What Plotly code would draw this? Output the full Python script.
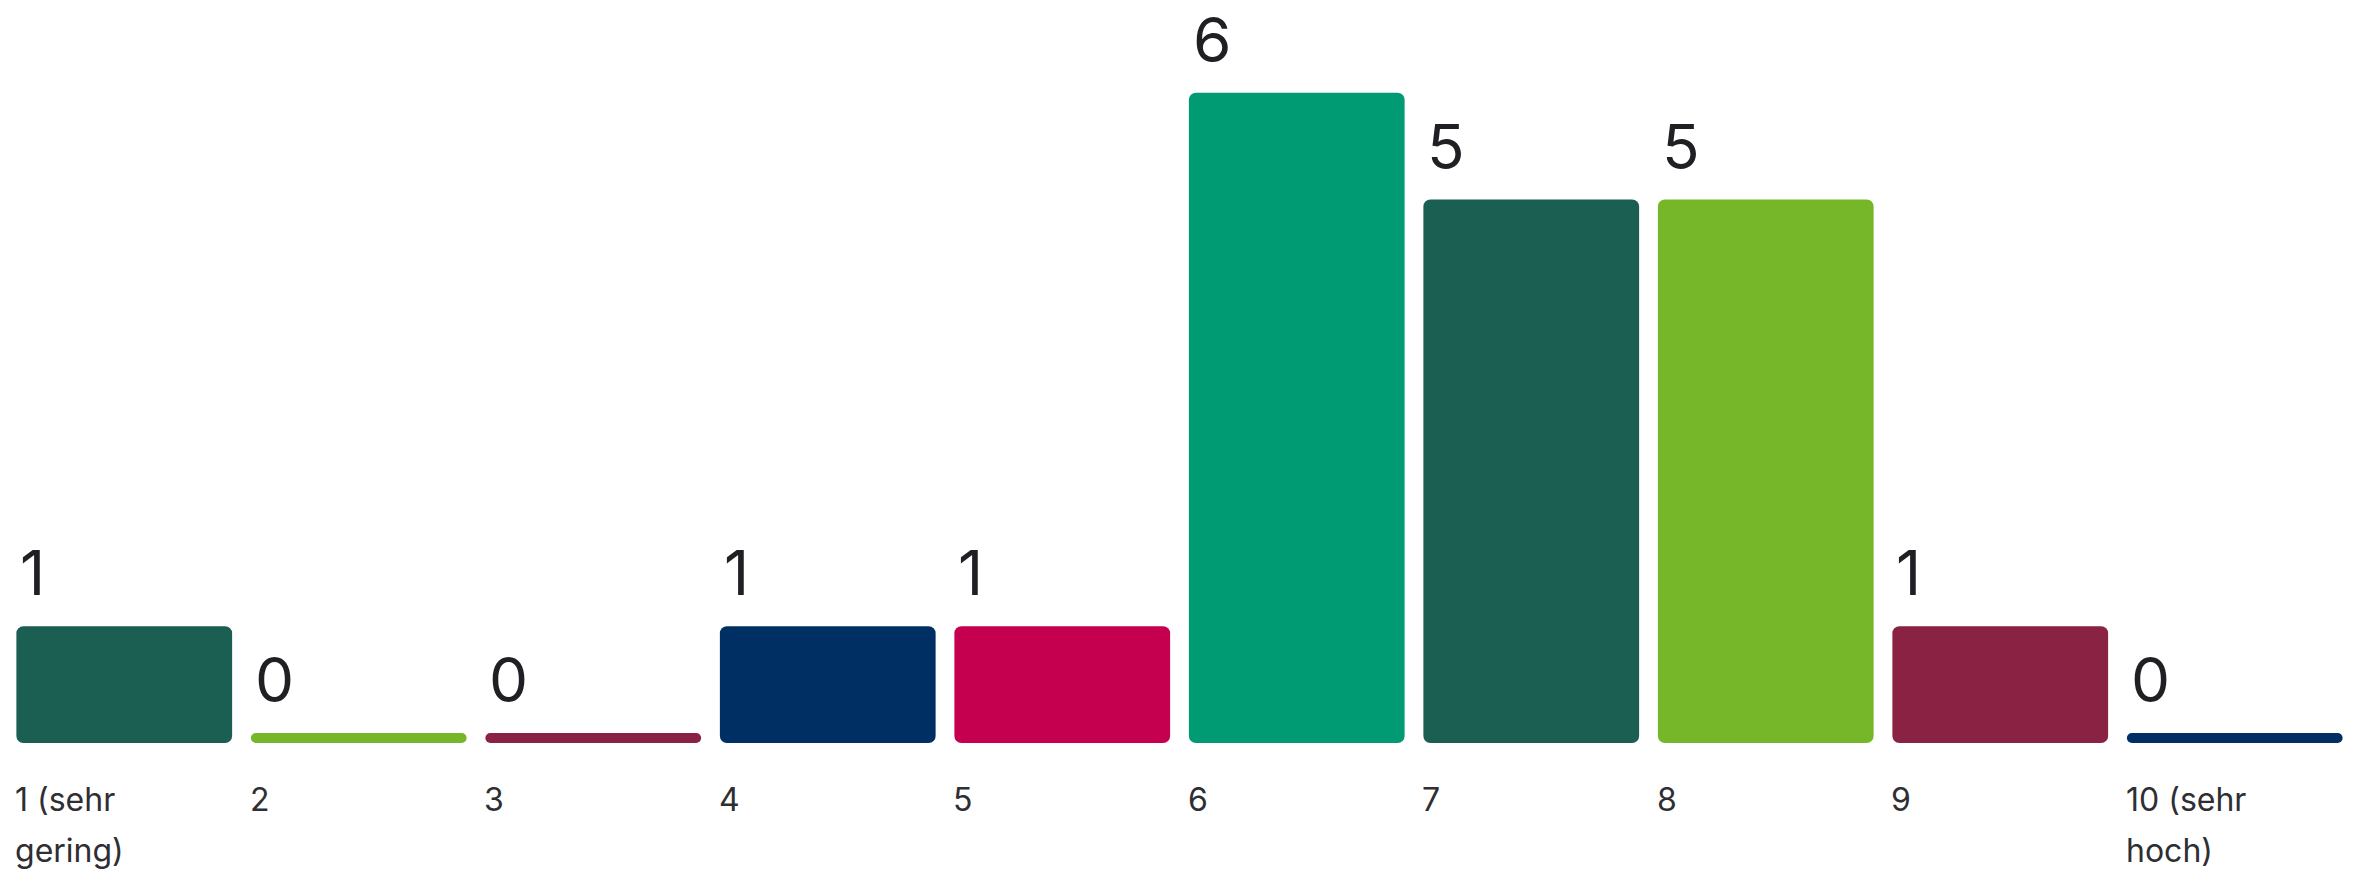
import plotly.graph_objects as go

ratings = [1, 2, 3, 4, 5, 6, 7, 8, 9, 10]
tick_labels = ["1 (sehr<br>gering)", "2", "3", "4", "5", "6", "7", "8", "9", "10 (sehr<br>hoch)"]
counts = [1, 0, 0, 1, 1, 6, 5, 5, 1, 0]
colors = ["#1a5f52", "#76b72a", "#8a2243", "#003063", "#c4004f",
          "#009a73", "#1a5f52", "#76b72a", "#8a2243", "#003063"]

W, H = 2354, 874
BASELINE_PX = 743
PX_PER_UNIT = 106.7
BASE = -10 / PX_PER_UNIT  # zero bars keep a thin visible stub
BARGAP = 0.08
HALF = (1 - BARGAP) / 2
FONT = "Inter"

fig = go.Figure()
fig.add_trace(go.Bar(
    x=ratings, y=[c - BASE for c in counts], base=BASE,
    marker=dict(color=colors, line=dict(width=0)),
    hoverinfo="skip",
))

annotations = []
for r, c in zip(ratings, counts):
    annotations.append(dict(
        x=r - HALF, y=c, xref="x", yref="y", text=str(c), showarrow=False,
        xanchor="left", yanchor="bottom", xshift=2, yshift=14,
        font=dict(family=FONT, size=62, color="#1f1f24"),
    ))
for r, lab in zip(ratings, tick_labels):
    for k, line in enumerate(lab.split("<br>")):
        annotations.append(dict(
            x=r - HALF, y=BASE, xref="x", yref="y", text=line, showarrow=False,
            xanchor="left", yanchor="top", xshift=-3, yshift=-35 - 51 * k,
            font=dict(family=FONT, size=32, color="#2e2e33"),
        ))

plot_h = BASELINE_PX
fig.update_layout(
    width=W, height=H,
    margin=dict(l=7, r=2, t=0, b=H - BASELINE_PX, pad=0),
    paper_bgcolor="white", plot_bgcolor="white",
    bargap=BARGAP, barcornerradius=7,
    showlegend=False,
    xaxis=dict(range=[0.5, 10.5], visible=False, fixedrange=True),
    yaxis=dict(range=[BASE, BASE + plot_h / PX_PER_UNIT], visible=False, fixedrange=True),
    annotations=annotations,
)
fig.write_html("out.html", config={"displayModeBar": False})
